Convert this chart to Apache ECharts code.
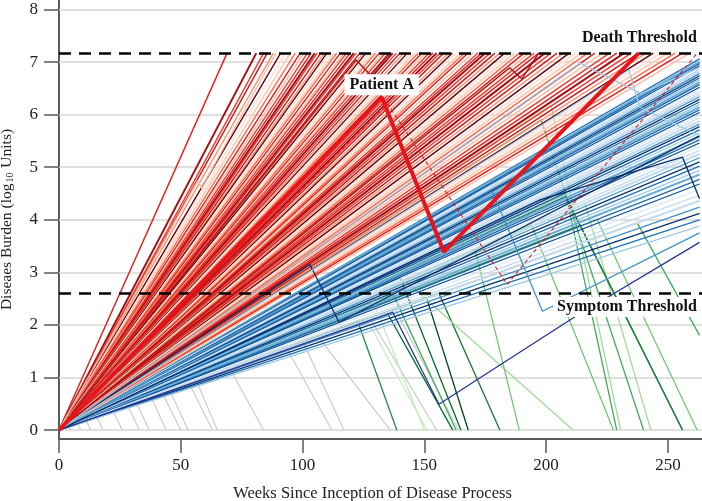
<!DOCTYPE html>
<html><head><meta charset="utf-8">
<script src="https://cdn.jsdelivr.net/npm/echarts@6/dist/echarts.min.js"></script>
<style>html,body{margin:0;padding:0;background:#fff}#c{width:702px;height:501px}</style>
</head><body><div id="c"></div>
<script>
// ---------- data ----------
const xTicks = [0, 50, 100, 150, 200, 250];
const yTicks = [0, 1, 2, 3, 4, 5, 6, 7, 8];
const deathThreshold = 7.17;
const symptomThreshold = 2.6;
const endWeek = 263;

// week at which each untreated fatal course hits the death threshold
const redDeathWeeks = [69, 81, 84, 85.5, 88, 91, 93, 95, 97, 99, 100.5, 102, 103.5, 105, 106, 107.5, 109, 110, 111.5, 113, 114, 115.5, 117, 118, 119.5, 121, 122, 123.5, 125, 126, 127.5, 129, 130, 131.5, 133, 134, 135.5, 137, 138.5, 140, 141.5, 143, 144.5, 146, 147.5, 149, 150.5, 152, 153.5, 155, 156.5, 158, 160, 161.5, 163, 165, 166.5, 168, 170, 172, 173.5, 175, 177, 179, 181, 183, 185, 187, 189, 191, 193, 195, 197, 199.5, 202, 204.5, 207, 209.5, 212, 214.5, 217, 220, 223, 226, 229, 232, 235, 238, 241, 244, 247, 250, 253, 256, 259];

// burden at the end of follow-up for surviving, uncured courses
const blueEndBurden = [7.06, 7.03, 7.0, 6.97, 6.93, 6.9, 6.86, 6.82, 6.78, 6.74, 6.7, 6.66, 6.61, 6.57, 6.52, 6.48, 6.43, 6.38, 6.34, 6.29, 6.24, 6.19, 6.14, 6.09, 6.04, 5.99, 5.94, 5.88, 5.82, 5.77, 5.71, 5.65, 5.58, 5.52, 5.46, 5.39, 5.32, 5.25, 5.18, 5.1, 5.02, 4.94, 4.86, 4.77, 4.68, 4.58, 4.47, 4.36, 4.24, 4.12, 4.0, 3.88];

// fatal courses with a transient response
const redRelapse = [
  [[0,0],[57,4.75],[58.5,4.6],[89,7.17]],
  [[0,0],[122,7.04],[128,6.75],[136,7.17]],
  [[0,0],[185,6.89],[190,6.68],[197,7.17]]
];
const redDashed = [[0,0],[135,6.2],[184,2.77],[262,7.17]];

// surviving courses with a treatment response then regrowth
const blueRelapse = [
  [[0,0],[137,2.24],[156,0.49],[212,2.16],[263,3.57]],
  [[0,0],[178,4.53],[198.5,2.26],[263,3.75]],
  [[0,0],[103,3.15],[115,2.05],[263,5.6]],
  [[0,0],[197.5,4.38],[256,5.19],[263,4.4]],
  [[0,0],[214,6.98],[239,6.4],[263,6.9]],
  [[0,0],[234,6.85],[238.5,6.14],[263,5.6]]
];

// cured after symptoms (green)
const greenCured = [
  [[0,0],[122.6,2.07],[138.7,0]],
  [[0,0],[134.6,2.24],[161.7,0]],
  [[0,0],[137,2.6],[163,0]],
  [[0,0],[140,2.9],[165,0]],
  [[0,0],[151,2.5],[168,0]],
  [[0,0],[156,2.6],[181,0]],
  [[0,0],[142,2.85],[211,0]],
  [[0,0],[171,3.4],[189,0]],
  [[0,0],[194,3.9],[227.6,0]],
  [[0,0],[208,4.5],[229,0]],
  [[0,0],[216,4.3],[243,0]],
  [[0,0],[208,4.44],[256,0]],
  [[0,0],[214,3.9],[256,0]],
  [[0,0],[237.4,3.94],[263,1.8]],
  [[0,0],[202,6.18],[230.6,0]],
  [[0,0],[198,5.9],[240,0]],
  [[0,0],[221,4.0],[262,0]],
  [[0,0],[110,4.66],[150,0]],
  [[0,0],[126,2.14],[151,0]]
];

// cured before symptoms (grey)
const greyCured = [
  [[0,0],[3.5,0.06],[5,0]],
  [[0,0],[7.5,0.13],[9,0]],
  [[0,0],[11,0.19],[13,0]],
  [[0,0],[15.5,0.27],[18,0]],
  [[0,0],[22,0.38],[26,0]],
  [[0,0],[28,0.48],[33,0]],
  [[0,0],[31.5,0.55],[37,0]],
  [[0,0],[37.5,0.66],[44,0]],
  [[0,0],[42,0.74],[50,0]],
  [[0,0],[45,0.8],[53,0]],
  [[0,0],[53,0.93],[63,0]],
  [[0,0],[56,0.98],[65,0]],
  [[0,0],[70,1.18],[84,0]],
  [[0,0],[93,1.6],[112,0]],
  [[0,0],[100,1.7],[117,0]],
  [[0,0],[106,1.8],[136,0]],
  [[0,0],[128,2.1],[155,0]],
  [[0,0],[138,2.3],[164,0]]
];

const patientA = [[0,0],[132.5,6.33],[158,3.39],[238,7.17]];

// label anchor points (week, burden): right end of each label
const deathLabelAt = [263.5, 7.457];
const symptomLabelAt = [263.5, 2.34];

// ---------- styling ----------
const FONT = 'Liberation Serif, DejaVu Serif, serif';
const redPalette = ['#e41a1c','#67000d','#fcbba1','#cb181d','#fb6a4a','#a50f15','#fee0d2','#ef3b2c','#fc9272','#e31a1c','#ef3b2c','#fdd0bd'];
const bluePalette = ['#2171b5','#c6dbef','#08519c','#9ecae1','#4292c6','#deebf7','#6baed6','#08306b','#c6dbef','#2166ac'];
const greenPalette = ['#238b45','#006d2c','#41ab5d','#006d2c','#00441b','#1b7837','#a1d99b','#74c476','#74c476','#41ab5d','#a1d99b','#00441b','#238b45','#41ab5d','#a1d99b','#41ab5d','#74c476','#c7e9c0','#c7e9c0'];
const blueRelapseColors = ['#253494','#4292c6','#08306b','#08306b','#9ecae1','#9ecae1'];

function line(points, color, width, z, type) {
  return {type:'line', data:points, showSymbol:false, symbol:'none', silent:true,
    animation:false, z:z, lineStyle:{color:color, width:width, type:type||'solid'}};
}
const labelStyle = {fontFamily:FONT, fontWeight:'bold', fontSize:16, color:'#111'};

const series = [];
series.push({type:'line', data:[], silent:true, z:1,
  markLine:{silent:true, animation:false, z:1, symbol:['none','none'], label:{show:false},
    lineStyle:{color:'#d6d6d6', width:1.5, type:'solid'},
    data: yTicks.map(v => ({yAxis:v}))}});
greyCured.forEach(p => series.push(line(p, '#cbcbcb', 1.2, 2)));
greenCured.forEach((p,i) => series.push(line(p, greenPalette[i], 1.3, 3)));
blueEndBurden.forEach((v,i) => series.push(line([[0,0],[endWeek,v]], bluePalette[(i*3)%bluePalette.length], i%5===2?2.2:1.3, 4)));
redDeathWeeks.forEach((w,i) => series.push(line([[0,0],[w,deathThreshold]], redPalette[(i*5)%redPalette.length], i%6===1?2:1.4, 5)));
redRelapse.forEach((p,i) => series.push(line(p, ['#fcbba1','#a50f15','#a50f15'][i], 1.3, 5)));
blueRelapse.forEach((p,i) => series.push(line(p, blueRelapseColors[i], 1.3, 6)));
series.push(line(redDashed, '#e31a1c', 1.1, 7, [4,3]));

series.push({type:'line', data:[], silent:true, z:20,
  markLine:{silent:true, animation:false, z:20, symbol:['none','none'], label:{show:false},
    lineStyle:{color:'#000', width:2.5, type:[12,8]},
    data:[{yAxis:deathThreshold}, {yAxis:symptomThreshold}]},
  markPoint:{silent:true, animation:false, z:30, symbol:'rect', symbolSize:0,
    data:[
      {coord:deathLabelAt, label:Object.assign({show:true, position:'left', distance:0,
        formatter:'Death Threshold', padding:[2,4,2,4]}, labelStyle)},
      {coord:symptomLabelAt, label:Object.assign({show:true, position:'left', distance:0,
        formatter:'Symptom Threshold', backgroundColor:'#fff', padding:[2,4,2,4]}, labelStyle)}
    ]}});

const pa = line(patientA, '#e8141b', 4, 25);
pa.markPoint = {silent:true, animation:false, z:30, symbol:'rect', symbolSize:0,
  data:[{coord:patientA[1]}],
  label:Object.assign({show:true, position:'top', distance:2, formatter:'Patient A',
    backgroundColor:'#fff', padding:[3,5,2,5]}, labelStyle)};
series.push(pa);

const chart = echarts.init(document.getElementById('c'), null, {renderer:'canvas'});
chart.setOption({
  animation:false,
  backgroundColor:'#fff',
  grid:{left:59, right:0, top:0, bottom:62, containLabel:false, outerBoundsMode:'none'},
  xAxis:{type:'value', min:0, max:264,
    name:'Weeks Since Inception of Disease Process', nameLocation:'middle', nameGap:46,
    nameTextStyle:{fontFamily:FONT, fontSize:16.5, color:'#222', padding:[0,16,0,0]},
    axisLine:{show:true, onZero:false, lineStyle:{color:'#5a5a5a', width:2}},
    axisTick:{show:true, customValues:xTicks, length:14, lineStyle:{color:'#5a5a5a', width:1.5}},
    axisLabel:{customValues:xTicks, fontFamily:FONT, fontSize:17, color:'#222', margin:18},
    splitLine:{show:false}},
  yAxis:{type:'value', min:-0.17, max:8.18,
    name:'Diseaes Burden (log{sub|10} Units)', nameLocation:'middle', nameGap:44,
    nameTextStyle:{fontFamily:FONT, fontSize:15.5, color:'#222',
      rich:{sub:{fontFamily:FONT, fontSize:10, color:'#222', padding:[7,1,0,1]}}},
    axisLine:{show:true, onZero:false, lineStyle:{color:'#5a5a5a', width:2}},
    axisTick:{show:true, customValues:yTicks, length:15, lineStyle:{color:'#5a5a5a', width:1.5}},
    axisLabel:{customValues:yTicks, fontFamily:FONT, fontSize:17, color:'#222', margin:21},
    splitLine:{show:false}},
  series:series
});
</script></body></html>
